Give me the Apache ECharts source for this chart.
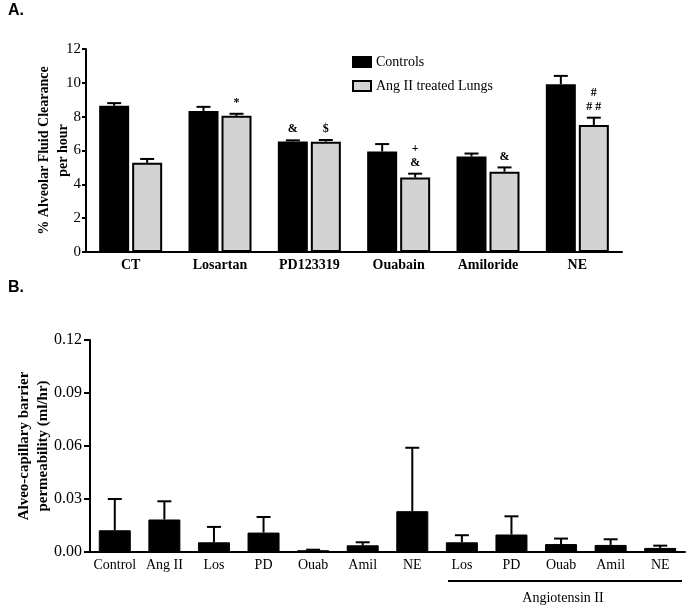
<!DOCTYPE html>
<html><head><meta charset="utf-8">
<script src="https://cdn.jsdelivr.net/npm/echarts@6/dist/echarts.min.js"></script>
<style>html,body{margin:0;padding:0;background:#fff}#c{width:689px;height:607px}</style>
</head><body><div id="c"></div>
<script>
// Panel A
const catsA = ['CT', 'Losartan', 'PD123319', 'Ouabain', 'Amiloride', 'NE'];
const controls = [8.64, 8.34, 6.53, 5.94, 5.65, 9.92];
const controlsErr = [0.16, 0.24, 0.07, 0.44, 0.17, 0.49];
const angII = [5.27, 8.05, 6.52, 4.41, 4.75, 7.51];
const angIIErr = [0.23, 0.12, 0.10, 0.22, 0.25, 0.43];
const marksControls = ['', '', '&', '', '', ''];
const marksAngII = ['', '*', '$', '+\n&', '&', '#\n# #'];
// Panel B
const catsB = ['Control', 'Ang II', 'Los', 'PD', 'Ouab', 'Amil', 'NE', 'Los', 'PD', 'Ouab', 'Amil', 'NE'];
const perm = [0.0123, 0.0184, 0.0055, 0.0110, 0.0010, 0.0038, 0.0231, 0.0055, 0.0099, 0.0045, 0.0040, 0.0023];
const permErr = [0.0177, 0.0103, 0.0087, 0.0088, 0.0003, 0.0017, 0.0359, 0.0040, 0.0103, 0.0031, 0.0032, 0.0013];

const SERIF = 'Liberation Serif';
const BW_A = 30, OFF_A = 16.5, BW_B = 32;

function errRender(offset, marks) {
  return function (params, api) {
    const i = api.value(0);
    const base = api.coord([i, api.value(1)]);
    const top = api.coord([i, api.value(2)]);
    const x = base[0] + offset;
    const children = [
      {type: 'line', shape: {x1: x, y1: base[1], x2: x, y2: top[1]}, style: {stroke: '#000', lineWidth: 2}},
      {type: 'line', shape: {x1: x - 7, y1: top[1], x2: x + 7, y2: top[1]}, style: {stroke: '#000', lineWidth: 2}}
    ];
    const m = marks ? marks[i] : '';
    if (m) {
      children.push({type: 'text', style: {text: m, x: x, y: top[1] - 4, align: 'center', verticalAlign: 'bottom',
        font: 'bold 12px "' + SERIF + '"', fill: '#000', lineHeight: 14}});
    }
    return {type: 'group', children: children};
  };
}

const chart = echarts.init(document.getElementById('c'), null, {renderer: 'canvas'});
chart.setOption({
  animation: false,
  backgroundColor: '#fff',
  textStyle: {fontFamily: SERIF, color: '#000'},
  title: [
    {text: 'A.', left: 3, top: -2, textStyle: {fontFamily: 'Liberation Sans', fontWeight: 'bold', fontSize: 16, color: '#000'}},
    {text: 'B.', left: 3, top: 275, textStyle: {fontFamily: 'Liberation Sans', fontWeight: 'bold', fontSize: 16, color: '#000'}}
  ],
  legend: {
    orient: 'vertical', left: 347, top: 50, itemWidth: 18, itemHeight: 10, itemGap: 10, icon: 'rect',
    data: ['Controls', 'Ang II treated Lungs'],
    textStyle: {fontFamily: SERIF, fontSize: 14, color: '#000'}
  },
  grid: [
    {left: 86, top: 49, width: 536, height: 203},
    {left: 90, top: 340, width: 595, height: 212}
  ],
  xAxis: [
    {type: 'category', gridIndex: 0, data: catsA,
      axisLine: {lineStyle: {color: '#000', width: 2}},
      axisTick: {alignWithLabel: true, length: 4, lineStyle: {color: '#000', width: 2}},
      axisLabel: {fontFamily: SERIF, fontWeight: 'bold', fontSize: 14, color: '#000', margin: 6}},
    {type: 'category', gridIndex: 1, data: catsB,
      axisLine: {lineStyle: {color: '#000', width: 2}},
      axisTick: {alignWithLabel: true, length: 5, lineStyle: {color: '#000', width: 2}},
      axisLabel: {fontFamily: SERIF, fontSize: 14, color: '#000', margin: 6, interval: 0}}
  ],
  yAxis: [
    {type: 'value', gridIndex: 0, min: 0, max: 12, interval: 2,
      name: '% Alveolar Fluid Clearance\nper hour', nameLocation: 'middle', nameRotate: 90, nameGap: 13,
      nameMoveOverlap: false,
      nameTextStyle: {fontFamily: SERIF, fontWeight: 'bold', fontSize: 14, color: '#000', lineHeight: 19},
      axisLine: {show: true, lineStyle: {color: '#000', width: 2}},
      axisTick: {show: true, length: 4, lineStyle: {color: '#000', width: 2}},
      splitLine: {show: false},
      axisLabel: {fontFamily: SERIF, fontSize: 15, color: '#000', margin: 5}},
    {type: 'value', gridIndex: 1, min: 0, max: 0.12, interval: 0.03,
      name: 'Alveo-capillary barrier\npermeability (ml/hr)', nameLocation: 'middle', nameRotate: 90, nameGap: 37,
      nameMoveOverlap: false,
      nameTextStyle: {fontFamily: SERIF, fontWeight: 'bold', fontSize: 15, color: '#000', lineHeight: 19},
      axisLine: {show: true, lineStyle: {color: '#000', width: 2}},
      axisTick: {show: true, length: 6, lineStyle: {color: '#000', width: 2}},
      splitLine: {show: false},
      axisLabel: {fontFamily: SERIF, fontSize: 16, color: '#000', margin: 8, formatter: v => v.toFixed(2)}}
  ],
  series: [
    {name: 'Controls', type: 'bar', xAxisIndex: 0, yAxisIndex: 0, data: controls, barWidth: BW_A, barGap: '10%',
      itemStyle: {color: '#000', borderColor: '#000', borderWidth: 2}},
    {name: 'Ang II treated Lungs', type: 'bar', xAxisIndex: 0, yAxisIndex: 0, data: angII, barWidth: BW_A, barGap: '10%',
      itemStyle: {color: '#d3d3d3', borderColor: '#000', borderWidth: 2}},
    {type: 'custom', xAxisIndex: 0, yAxisIndex: 0, z: 5,
      data: controls.map((v, i) => [i, v, v + controlsErr[i]]),
      encode: {x: 0, y: [1, 2]}, renderItem: errRender(-OFF_A, marksControls)},
    {type: 'custom', xAxisIndex: 0, yAxisIndex: 0, z: 5,
      data: angII.map((v, i) => [i, v, v + angIIErr[i]]),
      encode: {x: 0, y: [1, 2]}, renderItem: errRender(OFF_A, marksAngII)},
    {type: 'bar', xAxisIndex: 1, yAxisIndex: 1, data: perm, barWidth: BW_B,
      itemStyle: {color: '#000', borderColor: '#000', borderWidth: 1}},
    {type: 'custom', xAxisIndex: 1, yAxisIndex: 1, z: 5,
      data: perm.map((v, i) => [i, v, v + permErr[i]]),
      encode: {x: 0, y: [1, 2]}, renderItem: errRender(0, null)}
  ],
  graphic: [
    {type: 'line', shape: {x1: 448, y1: 581, x2: 682, y2: 581}, style: {stroke: '#000', lineWidth: 2}},
    {type: 'text', style: {text: 'Angiotensin II', x: 563, y: 598, align: 'center', verticalAlign: 'middle',
      font: '14px "' + SERIF + '"', fill: '#000'}}
  ]
});
</script></body></html>
